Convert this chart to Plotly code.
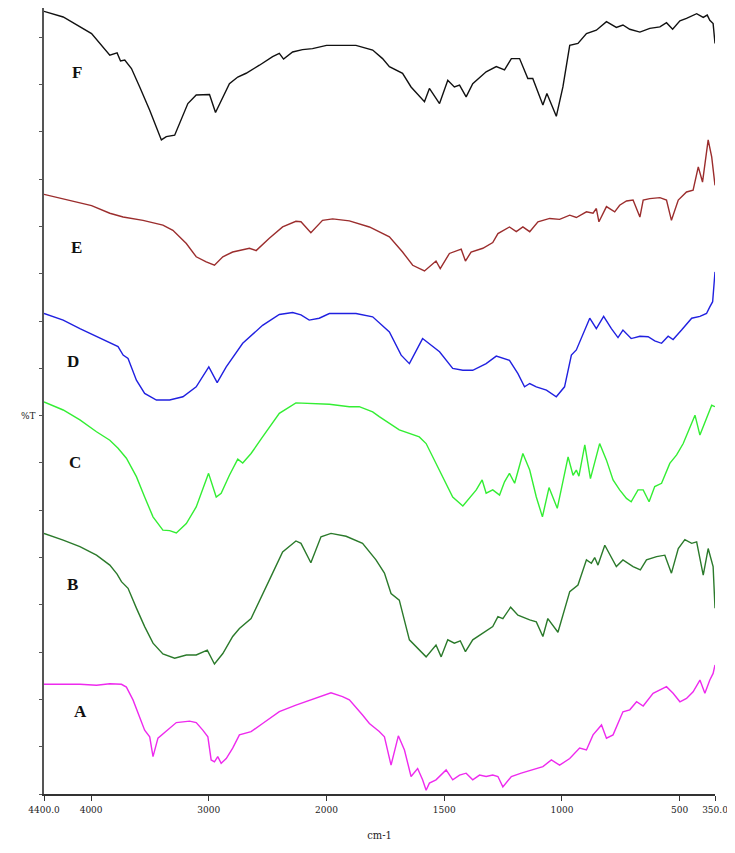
import plotly.graph_objects as go

# ---------------- data (wavenumber cm-1, %T offset units) ----------------
wn_F = [4400,4237,3996,3911,3841,3779,3750,3714,3657,3587,3502,3403,3361,3290,3248,3178,3107,2994,2943,2895,
        2825,2754,2683,2570,2458,2401,2365,2288,2204,2119,2000,1875,1804,1762,1733,1677,1641,1584,1563,1520,
        1485,1457,1435,1407,1379,1322,1279,1244,1215,1180,1145,1124,1081,1064,1024,996,967,932,896,854,
        811,769,741,712,669,627,584,556,530,499,471,428,400,383,372,358,350]
T_F = [165.5,164.3,160.8,158.3,156.2,156.7,155.0,155.2,153.4,149.5,144.6,138.3,139.0,139.3,141.8,146.0,147.8,147.9,144.1,146.7,
       150.2,151.6,152.4,154.1,155.9,156.6,155.4,156.9,157.4,157.6,158.3,158.3,157.3,155.5,153.8,152.4,149.5,146.4,149.2,146.0,
       150.9,149.5,149.9,147.4,150.2,152.7,153.8,153.1,155.5,155.5,151.3,151.3,145.7,148.1,143.3,149.5,158.3,158.7,160.8,161.5,
       163.3,162.1,162.6,161.7,161.1,161.9,162.2,163.1,161.7,163.5,164.0,165.0,164.2,164.7,163.6,162.9,158.7]

wn_E = [4400,4237,3996,3841,3728,3559,3390,3305,3191,3107,3022,2952,2881,2797,2655,2598,2486,2373,2260,2217,
        2133,2034,1974,1903,1818,1733,1677,1634,1584,1535,1517,1478,1428,1410,1386,1336,1294,1272,1223,1194,
        1166,1137,1102,1052,1010,967,939,896,868,854,843,811,776,755,726,698,669,655,627,584,
        556,535,506,471,443,421,403,379,364,350]
T_E = [126.8,125.8,124.4,122.8,122.0,121.3,120.3,119.2,116.4,113.6,112.5,111.8,113.6,114.6,115.4,114.9,117.5,119.9,121.1,121.0,
       118.7,121.3,121.6,121.2,119.9,117.8,114.6,111.8,110.6,112.7,111.1,114.3,115.2,112.7,114.6,115.4,116.6,118.5,119.9,118.9,
       119.9,118.9,121.0,121.7,121.5,122.4,121.9,123.1,122.8,123.8,121.0,124.2,123.1,124.5,125.4,125.6,122.0,125.6,125.9,126.1,
       125.6,121.3,125.6,127.3,127.7,132.6,129.4,138.3,134.7,128.7]

wn_D = [4400,4237,4095,3954,3841,3771,3728,3686,3615,3545,3445,3333,3220,3107,3000,2929,2852,2712,2543,2401,
        2288,2217,2147,2062,1988,1875,1804,1733,1683,1648,1592,1520,1464,1421,1379,1322,1279,1223,1187,1159,
        1137,1109,1066,1024,989,960,939,911,882,854,823,790,762,741,706,669,634,606,577,549,
        528,492,449,414,386,372,360,350]
T_D = [101.6,100.2,98.4,96.7,95.3,94.6,92.8,92.1,87.5,84.7,83.3,83.3,84.0,86.1,90.3,87.0,90.3,95.3,99.1,101.4,
       101.8,101.3,100.2,100.6,101.6,101.6,100.9,97.7,92.8,91.0,96.3,93.5,90.0,89.6,89.6,91.0,92.6,91.7,88.9,86.1,
       86.8,86.1,85.4,84.0,86.1,92.8,93.9,97.4,100.6,98.4,101.0,98.4,96.5,98.1,96.3,96.8,96.7,95.8,95.3,96.8,
       96.1,98.1,100.6,101.0,101.6,103.0,104.1,110.4]

wn_C = [4400,4237,4095,3954,3841,3771,3700,3615,3545,3474,3390,3333,3276,3191,3107,3002,2937,2895,2825,2754,
        2712,2641,2543,2401,2260,2119,1988,1903,1861,1804,1776,1691,1606,1577,1520,1464,1421,1393,1364,1339,
        1322,1294,1265,1244,1223,1201,1166,1137,1109,1083,1055,1020,974,953,939,928,903,879,840,811,
        783,755,726,706,677,655,630,606,577,542,513,485,457,435,414,393,364,350]
T_C = [82.9,81.2,79.1,76.6,74.8,73.1,71.0,67.1,62.8,58.6,55.8,55.7,55.2,57.2,60.7,67.8,62.8,63.6,67.4,70.8,
       70.0,72.0,75.5,80.5,82.7,82.6,82.4,81.9,81.9,80.8,79.8,77.0,75.5,74.1,68.5,62.8,60.9,62.5,64.3,66.4,
       63.6,64.3,63.2,66.0,67.8,65.7,72.0,68.5,62.8,58.6,64.8,60.4,71.3,67.4,68.5,67.2,73.8,66.7,74.1,70.6,
       66.4,64.3,62.5,61.8,64.3,64.3,61.8,65.0,65.7,69.9,71.7,74.1,77.6,80.1,75.9,78.4,82.2,81.9]

wn_B = [4400,4237,4095,3954,3841,3779,3742,3686,3615,3545,3474,3390,3290,3191,3107,3013,2952,2881,2797,2740,
        2641,2543,2458,2373,2260,2217,2133,2047,1981,1917,1847,1790,1754,1726,1691,1648,1613,1577,1535,1513,
        1485,1457,1432,1410,1379,1336,1294,1272,1251,1218,1187,1137,1109,1081,1060,1017,967,932,896,875,
        861,847,818,769,741,698,667,641,598,563,535,506,478,449,428,400,379,358,350]
T_B = [55.1,53.7,52.3,50.5,48.4,46.5,44.9,43.5,39.3,35.4,31.9,29.6,28.7,29.4,29.4,30.4,27.5,29.7,33.3,35.0,
       37.1,42.4,46.7,51.2,53.5,53.0,48.9,54.4,55.1,54.5,53.0,49.5,46.7,42.4,41.0,32.6,30.8,29.0,31.5,29.0,
       32.6,31.9,32.4,30.1,32.6,34.0,35.4,37.5,37.1,39.5,37.8,36.8,36.4,33.3,37.1,34.2,42.8,44.2,49.5,48.8,
       50.0,48.4,52.6,48.1,49.5,48.1,47.4,49.5,50.2,50.5,46.7,51.9,53.8,53.0,53.3,46.3,51.9,48.1,39.3]

wn_A = [4400,4095,3954,3841,3742,3700,3644,3587,3545,3502,3474,3432,3333,3276,3163,3107,3051,3008,2980,2952,
        2924,2895,2852,2797,2740,2641,2543,2401,2260,2090,1981,1932,1903,1847,1818,1776,1754,1726,1695,1669,
        1641,1613,1592,1577,1563,1535,1492,1464,1435,1407,1379,1350,1322,1294,1272,1251,1215,1173,1130,1081,
        1045,1010,967,925,896,868,832,811,783,741,712,683,655,613,556,528,499,471,443,414,393,372,358,350]
T_A = [23.2,23.2,23.0,23.3,23.2,22.6,19.9,16.3,13.5,12.1,7.9,11.8,13.9,15.1,15.4,15.1,13.5,12.1,7.2,6.8,
       7.9,6.5,7.5,9.7,12.5,13.2,14.9,17.4,18.8,20.2,21.4,20.6,19.9,16.7,14.9,13.2,12.1,6.1,12.3,9.3,
       3.7,5.4,3.0,0.8,2.3,3.0,5.1,3.0,4.0,4.4,3.0,4.0,3.7,4.0,3.7,1.5,3.7,4.4,5.1,5.8,
       7.2,6.1,7.5,9.7,9.3,12.5,14.6,11.8,12.5,17.4,17.8,19.5,18.6,21.3,22.7,21.3,19.5,20.2,21.6,24.1,
       21.3,24.1,25.5,27.3]

series_names = ["A", "B", "C", "D", "E", "F"]
tick_wn = [4400, 4000, 3000, 2000, 1500, 1000, 500, 350]
tick_text = ["4400.0", "4000", "3000", "2000", "1500", "1000", "500", "350.0"]
label_pos_T = {"F": 152.5, "E": 115.6, "D": 91.4, "C": 70.0, "B": 44.2, "A": 17.4}
label_pos_wn = {"F": 4120, "E": 4120, "D": 4150, "C": 4135, "B": 4155, "A": 4090}

# ---------------- styling ----------------
colors = {"F": "#111111", "E": "#9b2d2d", "D": "#2020e0", "C": "#33ee33", "B": "#2b7a2b", "A": "#ee2aee"}
data = {"A": (wn_A, T_A), "B": (wn_B, T_B), "C": (wn_C, T_C),
        "D": (wn_D, T_D), "E": (wn_E, T_E), "F": (wn_F, T_F)}
narrow = "DejaVu Serif Condensed, Liberation Sans Narrow, Liberation Serif, serif"


def disp(w):
    # instrument-style axis: scale expanded x2 below 2000 cm-1
    return w if w >= 2000 else 2 * w - 2000


fig = go.Figure()
for name in series_names:
    wn, t = data[name]
    assert len(wn) == len(t), name
    fig.add_trace(go.Scatter(x=[disp(w) for w in wn], y=t, mode="lines",
                             line=dict(color=colors[name], width=1.4),
                             name=name, showlegend=False, hoverinfo="skip"))

annotations = []
for name in series_names:
    annotations.append(dict(x=disp(label_pos_wn[name]), y=label_pos_T[name], xref="x", yref="y",
                            text="<b>%s</b>" % name, showarrow=False,
                            font=dict(family="Liberation Serif, Times New Roman, serif", size=17, color="#111")))
annotations.append(dict(x=-0.038, y=0.482, xref="paper", yref="paper", text="%T", showarrow=False,
                        font=dict(family=narrow, size=10, color="#222")))

fig.update_layout(
    width=727, height=845,
    margin=dict(l=36, r=20, t=0, b=59),
    paper_bgcolor="white", plot_bgcolor="white",
    annotations=annotations,
    xaxis=dict(range=[disp(4400), disp(350)], tickvals=[disp(w) for w in tick_wn], ticktext=tick_text,
               showline=True, linecolor="#333", linewidth=2, ticks="outside", ticklen=5, tickcolor="#333",
               showgrid=False, zeroline=False,
               tickfont=dict(family=narrow, size=10, color="#222"),
               title=dict(text="cm-1", standoff=17, font=dict(family=narrow, size=11, color="#222"))),
    yaxis=dict(range=[0, 166.2], tick0=0, dtick=10, showticklabels=False,
               showline=True, linecolor="#555", linewidth=1.5, ticks="outside", ticklen=3, tickcolor="#555",
               showgrid=False, zeroline=False),
)

fig.write_html("out.html")
